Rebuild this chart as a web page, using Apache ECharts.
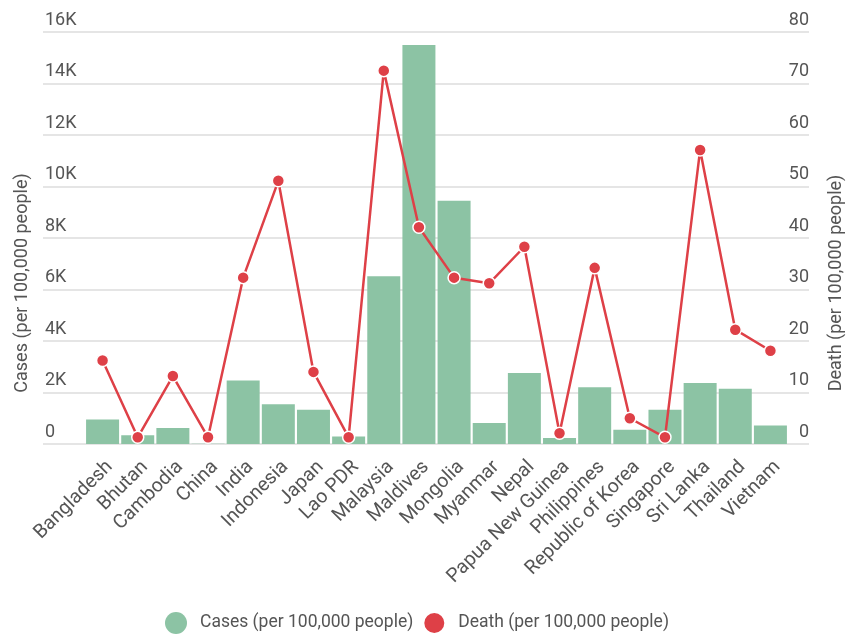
<!DOCTYPE html>
<html>
<head>
<meta charset="utf-8">
<title>Cases and deaths per 100,000 people</title>
<script src="https://cdn.jsdelivr.net/npm/echarts@6/dist/echarts.min.js"></script>
<style>
  html, body { margin: 0; padding: 0; background: #fff; }
  #chart { width: 849px; height: 638px; }
</style>
</head>
<body>
<div id="chart"></div>
<script>
// Countries along the category axis
const countries = [
  'Bangladesh', 'Bhutan', 'Cambodia', 'China', 'India', 'Indonesia', 'Japan',
  'Lao PDR', 'Malaysia', 'Maldives', 'Mongolia', 'Myanmar', 'Nepal',
  'Papua New Guinea', 'Philippines', 'Republic of Korea', 'Singapore',
  'Sri Lanka', 'Thailand', 'Vietnam'
];

// Confirmed cases per 100,000 people (bars, left axis)
const cases = [
  950, 340, 620, 6, 2470, 1540, 1330, 295, 6510, 15500, 9450,
  820, 2760, 230, 2200, 555, 1330, 2370, 2150, 720
];

// Deaths per 100,000 people (line, right axis)
const deaths = [
  16.2, 1.3, 13.2, 1.3, 32.3, 51.1, 14.0, 1.3, 72.5, 42.1, 32.3,
  31.2, 38.3, 2.1, 34.2, 5.0, 1.3, 57.1, 22.2, 18.1
];

// Axis ranges and tick steps
const casesMax = 16000, casesStep = 2000;
const deathsMax = 80, deathsStep = 10;

const seriesNames = ['Cases (per 100,000 people)', 'Death (per 100,000 people)'];

const GREEN = '#8cc3a4';
const RED = '#de4047';
const TEXT = '#555';
const FONT = 'Roboto, "Noto Sans", sans-serif';

const chart = echarts.init(document.getElementById('chart'), null, { renderer: 'canvas' });

const fmtK = v => (v === 0 ? '0' : (v / 1000) + 'K');

const tickLabel = {
  inside: true,
  verticalAlign: 'bottom',
  lineHeight: 18,
  padding: [0, 0, 3, 0],
  color: TEXT,
  fontSize: 18,
  fontFamily: FONT
};

chart.setOption({
  animation: false,
  textStyle: { fontFamily: FONT },
  grid: [
    // wide grid: carries the gridlines and the tick labels
    { left: 43, right: 40, top: 32, bottom: 194, containLabel: false },
    // inner grid: carries the bars and the line
    { left: 85, right: 61, top: 32, bottom: 194, containLabel: false }
  ],
  legend: {
    bottom: -2,
    left: 160,
    icon: 'circle',
    itemWidth: 22,
    itemHeight: 22,
    itemGap: 9,
    data: seriesNames,
    textStyle: { color: TEXT, fontSize: 17.5, fontFamily: FONT, padding: [0, 0, 0, 8] }
  },
  xAxis: [
    { gridIndex: 0, type: 'value', show: false, min: 0, max: 1 },
    {
      gridIndex: 1,
      type: 'category',
      data: countries,
      axisLine: { show: false },
      axisTick: { show: false },
      axisLabel: {
        interval: 0,
        rotate: 45,
        margin: 13,
        verticalAlign: 'top',
        color: TEXT,
        fontSize: 19.5,
        fontFamily: FONT
      }
    }
  ],
  yAxis: [
    {
      gridIndex: 0,
      type: 'value',
      position: 'left',
      min: 0, max: casesMax, interval: casesStep,
      axisLine: { show: false },
      axisTick: { show: false },
      splitLine: { show: true, lineStyle: { color: '#dcdcdc', width: 1.5 } },
      axisLabel: Object.assign({ margin: 2, formatter: fmtK }, tickLabel)
    },
    {
      gridIndex: 0,
      type: 'value',
      position: 'right',
      min: 0, max: deathsMax, interval: deathsStep,
      axisLine: { show: false },
      axisTick: { show: false },
      splitLine: { show: false },
      axisLabel: Object.assign({ margin: 0 }, tickLabel)
    },
    {
      gridIndex: 1, type: 'value', show: false,
      min: 0, max: casesMax, interval: casesStep, splitLine: { show: false }
    },
    {
      gridIndex: 1, type: 'value', show: false,
      min: 0, max: deathsMax, interval: deathsStep, splitLine: { show: false }
    }
  ],
  series: [
    {
      name: seriesNames[0],
      type: 'bar',
      xAxisIndex: 1,
      yAxisIndex: 2,
      data: cases,
      barWidth: 33,
      itemStyle: { color: GREEN }
    },
    {
      name: seriesNames[1],
      type: 'line',
      xAxisIndex: 1,
      yAxisIndex: 3,
      data: deaths,
      symbol: 'circle',
      symbolSize: 12,
      lineStyle: { color: RED, width: 2.5 },
      itemStyle: { color: RED, borderColor: '#fff', borderWidth: 1.5 },
      z: 3
    }
  ],
  graphic: [
    {
      type: 'text',
      x: 22, y: 283,
      rotation: Math.PI / 2,
      style: {
        text: 'Cases (per 100,000 people)',
        fill: TEXT,
        font: '18px ' + FONT,
        align: 'center',
        verticalAlign: 'middle'
      }
    },
    {
      type: 'text',
      x: 836, y: 283,
      rotation: Math.PI / 2,
      style: {
        text: 'Death (per 100,000 people)',
        fill: TEXT,
        font: '18px ' + FONT,
        align: 'center',
        verticalAlign: 'middle'
      }
    }
  ]
});
</script>
</body>
</html>
